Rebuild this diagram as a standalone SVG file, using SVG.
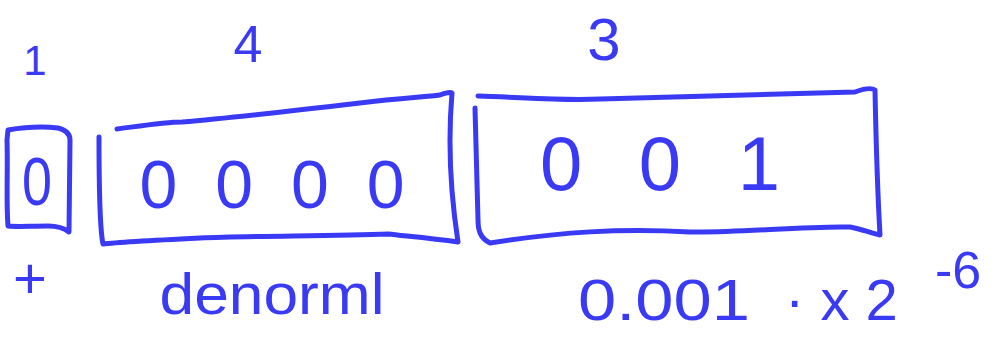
<svg xmlns="http://www.w3.org/2000/svg" width="999" height="339" viewBox="0 0 999 339">
<style>
.box{fill:none;stroke:#3a3af5;stroke-width:5;stroke-linecap:round;stroke-linejoin:round}
.t{fill:#3a3af5;font-family:"Liberation Sans","DejaVu Sans",sans-serif}
</style>
<rect width="999" height="339" fill="#ffffff"/>
<g id="sign">
<path class="box" d="M8,130 C20,128 40,126 58,128 C66,130 70,134 70,140 L69,232 C64,228 58,226 48,226 C30,226 18,227 8,226 C6,200 8,170 7,140 Z"/>
<text class="t" x="37" y="205" font-size="68" text-anchor="middle" textLength="30" lengthAdjust="spacingAndGlyphs">0</text>
<text class="t" x="35" y="75" font-size="42" text-anchor="middle">1</text>
<text class="t" x="30" y="298" font-size="58" text-anchor="middle">+</text>
</g>
<g id="exponent">
<path class="box" d="M117,129 C140,126 165,122 182,122 C230,118 300,110 360,103 C400,98 425,97 440,95 C448,92 450,92 452,93 C448,140 450,190 458,242 C430,238 405,236 388,234 C330,236 250,236 200,238 C160,240 120,242 103,244 C100,230 99,180 99,137"/>
<text class="t" x="272" y="208" font-size="68" text-anchor="middle" textLength="265" lengthAdjust="spacing">0 0 0 0</text>
<text class="t" x="248" y="62" font-size="52" text-anchor="middle">4</text>
<text class="t" x="272" y="314" font-size="58" text-anchor="middle" textLength="225" lengthAdjust="spacingAndGlyphs">denorml</text>
</g>
<g id="mantissa">
<path class="box" d="M478,96 C520,97 560,101 600,99 C680,96 760,94 855,92 C866,88 872,88 875,90 C876,140 878,200 880,235 C870,233 862,229 850,227 C800,226 740,233 690,232 C620,228 560,232 490,243 C480,238 478,230 478,220 C477,180 476,140 475,108"/>
<text class="t" x="660" y="190" font-size="76" text-anchor="middle" textLength="240" lengthAdjust="spacing">0 0 1</text>
<text class="t" x="604" y="60" font-size="60" text-anchor="middle">3</text>
<text class="t" x="578" y="320" font-size="58" textLength="172" lengthAdjust="spacingAndGlyphs">0.001</text>
<text class="t" x="785" y="320" font-size="58">· x 2</text>
<text class="t" x="935" y="288" font-size="52">-6</text>
</g>
<g id="connectors"/>
</svg>
